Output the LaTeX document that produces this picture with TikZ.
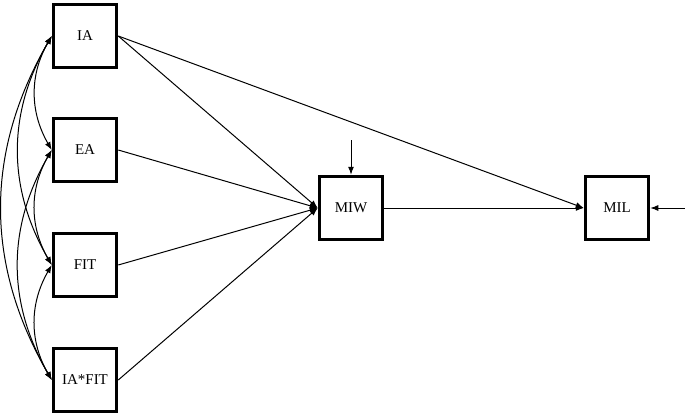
\documentclass[tikz,border=0pt]{standalone}
\usepackage{fontspec}
\setmainfont{Liberation Serif}
\usetikzlibrary{arrows.meta}
\begin{document}
\begin{tikzpicture}[x=1pt,y=1pt,
  var/.style={draw, line width=3pt, minimum size=63.5pt, inner sep=0pt, font=\fontsize{15}{17}\selectfont},
  path/.style={line width=1pt, -{Latex[length=8pt,width=6pt]}},
  cov/.style={line width=1pt, {Latex[length=8pt,width=6pt]}-{Latex[length=8pt,width=6pt]}}]
\useasboundingbox (0,0) rectangle (685,416);
\node[var] (ia) at (85,380) {IA};
\node[var] (ea) at (85,266) {EA};
\node[var] (fit) at (85,151) {FIT};
\node[var] (iafit) at (85,36) {IA*FIT};
\node[var] (miw) at (351,208) {MIW};
\node[var] (mil) at (617,208) {MIL};
\coordinate (emiw) at (351,276);
\coordinate (emil) at (685,208);
\draw[path] (ia.east) -- (miw.west);
\draw[path] (ia.east) -- (mil.west);
\draw[path] (ea.east) -- (miw.west);
\draw[path] (fit.east) -- (miw.west);
\draw[path] (iafit.east) -- (miw.west);
\draw[path] (miw.east) -- (mil.west);
\draw[path] (emiw) -- (miw.north);
\draw[path] (emil) -- (mil.east);
\draw[cov] (ia.west) to[out=240,in=120] (ea.west);
\draw[cov] (ea.west) to[out=240,in=120] (fit.west);
\draw[cov] (fit.west) to[out=240,in=120] (iafit.west);
\draw[cov] (ia.west) to[out=240,in=120] (fit.west);
\draw[cov] (ea.west) to[out=240,in=120] (iafit.west);
\draw[cov] (ia.west) to[out=240,in=120] (iafit.west);
\end{tikzpicture}
\end{document}
